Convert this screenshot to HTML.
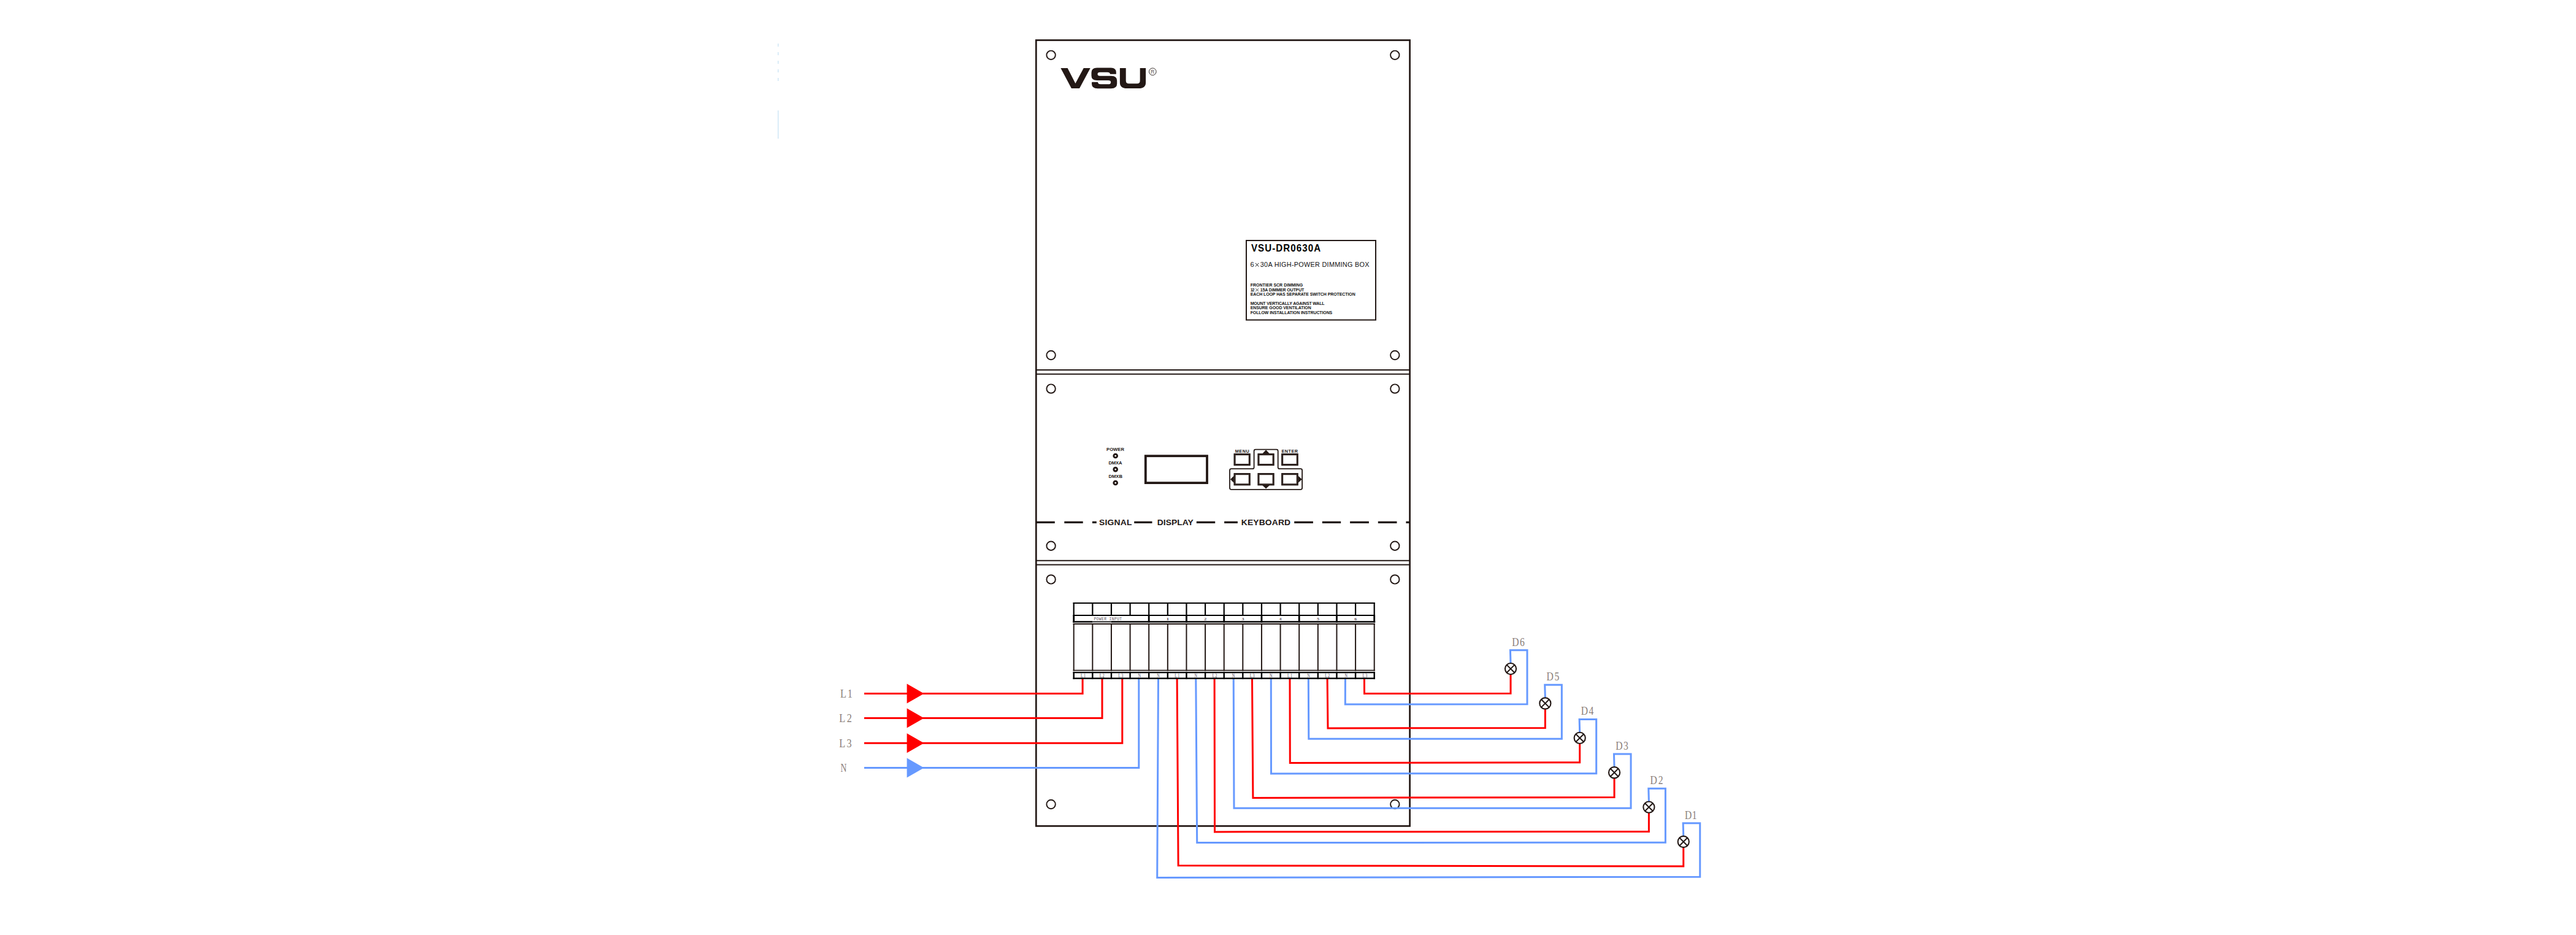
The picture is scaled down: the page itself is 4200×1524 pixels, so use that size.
<!DOCTYPE html>
<html><head><meta charset="utf-8"><title>VSU-DR0630A wiring</title>
<style>
html,body{margin:0;padding:0;background:#fff;}
body{width:4200px;height:1524px;overflow:hidden;position:relative;font-family:"Liberation Sans",sans-serif;}
svg{position:absolute;left:0;top:0;}
</style></head><body>
<svg width="4200" height="1524" viewBox="0 0 4200 1524">
<rect x="1689.3" y="65.5" width="609.3" height="1280.9" fill="none" stroke="#231815" stroke-width="2.7"/>
<line x1="1689.3" y1="603.1" x2="2298.6" y2="603.1" stroke="#231815" stroke-width="2"/>
<line x1="1689.3" y1="609.7" x2="2298.6" y2="609.7" stroke="#231815" stroke-width="2"/>
<line x1="1689.3" y1="913.8" x2="2298.6" y2="913.8" stroke="#231815" stroke-width="2"/>
<line x1="1689.3" y1="920.5" x2="2298.6" y2="920.5" stroke="#231815" stroke-width="2"/>
<circle cx="1713.6" cy="89.8" r="7.2" fill="none" stroke="#231815" stroke-width="1.95"/>
<circle cx="2274.3" cy="89.8" r="7.2" fill="none" stroke="#231815" stroke-width="1.95"/>
<circle cx="1713.6" cy="579" r="7.2" fill="none" stroke="#231815" stroke-width="1.95"/>
<circle cx="2274.3" cy="579" r="7.2" fill="none" stroke="#231815" stroke-width="1.95"/>
<circle cx="1713.6" cy="633.6" r="7.2" fill="none" stroke="#231815" stroke-width="1.95"/>
<circle cx="2274.3" cy="633.6" r="7.2" fill="none" stroke="#231815" stroke-width="1.95"/>
<circle cx="1713.6" cy="889.7" r="7.2" fill="none" stroke="#231815" stroke-width="1.95"/>
<circle cx="2274.3" cy="889.7" r="7.2" fill="none" stroke="#231815" stroke-width="1.95"/>
<circle cx="1713.6" cy="944.4" r="7.2" fill="none" stroke="#231815" stroke-width="1.95"/>
<circle cx="2274.3" cy="944.4" r="7.2" fill="none" stroke="#231815" stroke-width="1.95"/>
<circle cx="1713.6" cy="1311" r="7.2" fill="none" stroke="#231815" stroke-width="1.95"/>
<circle cx="2274.3" cy="1311" r="7.2" fill="none" stroke="#231815" stroke-width="1.95"/>
<line x1="1268.7" y1="71" x2="1268.7" y2="136" stroke="#cfe6f5" stroke-width="1.5" stroke-dasharray="5 9"/>
<line x1="1268.7" y1="180" x2="1268.7" y2="226" stroke="#cfe6f5" stroke-width="1.5"/>
<path fill="#231815" d="M1729.4,110.9 L1740.6,110.9 L1753.4,135.9 L1766.8,110.9 L1777.7,110.9 L1760,143.9 L1746.9,143.9 Z"/>
<path fill="#231815" d="M1819.8,120.7 L1810.1,120.7 Q1809.6,117.7 1805.5,117.7 L1793.5,117.7 Q1789.5,117.7 1789.5,120.7 Q1789.5,123.7 1793.5,123.7 L1812,123.7 Q1821.2,123.7 1821.2,131.5 L1821.2,136.5 Q1821.2,144.2 1811.5,144.2 L1789.5,144.2 Q1780,144.2 1780,136.5 L1780.2,133.8 L1789.9,133.8 Q1790.2,137.3 1794.5,137.3 L1807,137.3 Q1811.2,137.3 1811.2,134.2 Q1811.2,131 1807,131 L1788.5,131 Q1779.5,131 1779.5,123.5 L1779.5,118.5 Q1779.5,110.5 1788.5,110.5 L1811.5,110.5 Q1819.8,110.5 1819.8,118 Z"/>
<path fill="#231815" d="M1825.9,110.9 L1835.7,110.9 L1835.7,131.5 Q1835.7,136.2 1840.5,136.2 L1854,136.2 Q1858.7,136.2 1858.7,131.5 L1858.7,110.9 L1868.1,110.9 L1868.1,134.5 Q1868.1,144.1 1856.5,144.1 L1837.5,144.1 Q1825.9,144.1 1825.9,134.5 Z"/>
<circle cx="1879.3" cy="116.8" r="5.8" fill="none" stroke="#231815" stroke-width="0.9"/>
<text transform="translate(1876.309,119.9) scale(0.934,1)" font-family="Liberation Sans" font-size="9.012" fill="#5a504c">R</text>
<rect x="2032" y="392" width="211" height="129.5" fill="none" stroke="#231815" stroke-width="2"/>
<text transform="translate(2039.897,410.2) scale(0.92,1)" font-family="Liberation Sans" font-weight="bold" font-size="16.425" letter-spacing="1.179" fill="#000">VSU-DR0630A</text>
<text transform="translate(2038.439,435) scale(0.988,1)" font-family="Liberation Sans" font-size="11.192" fill="#111">6</text>
<path stroke="#111" stroke-width="1" d="M2046.8,428.9 L2052.4,434.5 M2052.4,428.9 L2046.8,434.5"/>
<text transform="translate(2054.787,435) scale(0.97,1)" font-family="Liberation Sans" font-size="11.192" letter-spacing="0.294" fill="#111">30A HIGH-POWER DIMMING BOX</text>
<text transform="translate(2038.633,466.8)" font-family="Liberation Sans" font-weight="bold" font-size="6.977" letter-spacing="0.023" fill="#111">FRONTIER SCR DIMMING</text>
<text transform="translate(2038.633,481.8)" font-family="Liberation Sans" font-weight="bold" font-size="6.977" letter-spacing="-0.071" fill="#111">EACH LOOP HAS SEPARATE SWITCH PROTECTION</text>
<text transform="translate(2038.633,496.8)" font-family="Liberation Sans" font-weight="bold" font-size="6.977" letter-spacing="-0.152" fill="#111">MOUNT VERTICALLY AGAINST WALL</text>
<text transform="translate(2038.633,503.9)" font-family="Liberation Sans" font-weight="bold" font-size="6.977" letter-spacing="-0.048" fill="#111">ENSURE GOOD VENTILATION</text>
<text transform="translate(2038.633,511.6)" font-family="Liberation Sans" font-weight="bold" font-size="6.977" letter-spacing="-0.089" fill="#111">FOLLOW INSTALLATION INSTRUCTIONS</text>
<text transform="translate(2038.661,474.8)" font-family="Liberation Sans" font-weight="bold" font-size="6.977" letter-spacing="-1.142" fill="#111">12</text>
<path stroke="#111" stroke-width="0.75" d="M2047.0,470.3 L2052.3,474.9 M2052.3,470.3 L2047.0,474.9"/>
<text transform="translate(2054.761,474.8)" font-family="Liberation Sans" font-weight="bold" font-size="6.977" letter-spacing="-0.108" fill="#111">15A DIMMER OUTPUT</text>
<text transform="translate(1804.09,734.9) scale(1.05,1)" font-family="Liberation Sans" font-weight="bold" font-size="7.268" letter-spacing="0.009" fill="#231815">POWER</text>
<text transform="translate(1807.39,756.8) scale(1.05,1)" font-family="Liberation Sans" font-weight="bold" font-size="7.268" letter-spacing="-0.081" fill="#231815">DMXA</text>
<text transform="translate(1807.39,778.8) scale(1.05,1)" font-family="Liberation Sans" font-weight="bold" font-size="7.268" letter-spacing="0.028" fill="#231815">DMXB</text>
<circle cx="1818.7" cy="743" r="2.85" fill="none" stroke="#231815" stroke-width="2.95"/>
<circle cx="1818.7" cy="765.1" r="2.85" fill="none" stroke="#231815" stroke-width="2.95"/>
<circle cx="1818.7" cy="787" r="2.85" fill="none" stroke="#231815" stroke-width="2.95"/>
<rect x="1867.8" y="743.2" width="100.2" height="43.9" fill="none" stroke="#231815" stroke-width="3.8"/>
<path fill="none" stroke="#231815" stroke-width="1.8" stroke-linejoin="round" d="M2007.5,764.2 L2042.1,764.2 Q2044.6,764.2 2044.6,761.7 L2044.6,735.2 Q2044.6,732.7 2047.1,732.7 L2081.2,732.7 Q2083.7,732.7 2083.7,735.2 L2083.7,761.7 Q2083.7,764.2 2086.2,764.2 L2120.6,764.2 Q2123.1,764.2 2123.1,766.7 L2123.1,795.3 Q2123.1,797.8 2120.6,797.8 L2007.5,797.8 Q2005,797.8 2005,795.3 L2005,766.7 Q2005,764.2 2007.5,764.2 Z"/>
<rect x="2013.05" y="740.6" width="24.2" height="16.9" fill="none" stroke="#231815" stroke-width="3.1"/>
<rect x="2013.5" y="741.05" width="23.3" height="16" fill="none" stroke="#5c4f4a" stroke-width="0.45"/>
<rect x="2013.05" y="772.6" width="24.2" height="17.2" fill="none" stroke="#231815" stroke-width="3.1"/>
<rect x="2013.5" y="773.05" width="23.3" height="16.3" fill="none" stroke="#5c4f4a" stroke-width="0.45"/>
<rect x="2051.95" y="740.6" width="24.2" height="16.9" fill="none" stroke="#231815" stroke-width="3.1"/>
<rect x="2052.4" y="741.05" width="23.3" height="16" fill="none" stroke="#5c4f4a" stroke-width="0.45"/>
<rect x="2051.95" y="772.6" width="24.2" height="17.2" fill="none" stroke="#231815" stroke-width="3.1"/>
<rect x="2052.4" y="773.05" width="23.3" height="16.3" fill="none" stroke="#5c4f4a" stroke-width="0.45"/>
<rect x="2090.65" y="740.6" width="24.6" height="16.9" fill="none" stroke="#231815" stroke-width="3.1"/>
<rect x="2091.1" y="741.05" width="23.7" height="16" fill="none" stroke="#5c4f4a" stroke-width="0.45"/>
<rect x="2090.65" y="772.6" width="24.6" height="17.2" fill="none" stroke="#231815" stroke-width="3.1"/>
<rect x="2091.1" y="773.05" width="23.7" height="16.3" fill="none" stroke="#5c4f4a" stroke-width="0.45"/>
<path fill="#231815" d="M2064.1,733.3 L2070,739.5 L2058.2,739.5 Z"/>
<path fill="#231815" d="M2064.1,796.6 L2070,790.9 L2058.2,790.9 Z"/>
<path fill="#231815" d="M2006,781.2 L2011.8,775.4 L2011.8,787 Z"/>
<path fill="#231815" d="M2122.8,781.2 L2116.5,775.4 L2116.5,787 Z"/>
<text transform="translate(2013.814,737.9)" font-family="Liberation Sans" font-weight="bold" font-size="7.268" letter-spacing="0.511" fill="#231815">MENU</text>
<text transform="translate(2089.514,737.9)" font-family="Liberation Sans" font-weight="bold" font-size="7.268" letter-spacing="0.476" fill="#231815">ENTER</text>
<rect x="1688" y="849.7" width="31.8" height="3.3" fill="#231815"/>
<rect x="1735.3" y="849.7" width="30.4" height="3.3" fill="#231815"/>
<rect x="1780.9" y="849.7" width="6.9" height="3.3" fill="#231815"/>
<rect x="1849.2" y="849.7" width="29.3" height="3.3" fill="#231815"/>
<rect x="1950.8" y="849.7" width="30.4" height="3.3" fill="#231815"/>
<rect x="1996.1" y="849.7" width="21.8" height="3.3" fill="#231815"/>
<rect x="2110.2" y="849.7" width="30.7" height="3.3" fill="#231815"/>
<rect x="2155.8" y="849.7" width="30.4" height="3.3" fill="#231815"/>
<rect x="2201.1" y="849.7" width="30.8" height="3.3" fill="#231815"/>
<rect x="2246.8" y="849.7" width="30.7" height="3.3" fill="#231815"/>
<rect x="2292.4" y="849.7" width="5.6" height="3.3" fill="#231815"/>
<text transform="translate(1792.001,855.8) scale(1.06,1)" font-family="Liberation Sans" font-weight="bold" font-size="13.082" letter-spacing="0.234" fill="#231815">SIGNAL</text>
<text transform="translate(1886.772,855.8) scale(1.06,1)" font-family="Liberation Sans" font-weight="bold" font-size="13.082" letter-spacing="0.024" fill="#231815">DISPLAY</text>
<text transform="translate(2023.772,855.8) scale(1.06,1)" font-family="Liberation Sans" font-weight="bold" font-size="13.082" letter-spacing="0.142" fill="#231815">KEYBOARD</text>
<line x1="1749.6" y1="982.9" x2="2241.8" y2="982.9" stroke="#000000" stroke-width="2.0"/>
<line x1="1749.6" y1="1003" x2="2241.8" y2="1003" stroke="#000000" stroke-width="2.0"/>
<line x1="1750.7" y1="982" x2="1750.7" y2="1004" stroke="#000000" stroke-width="2.2"/>
<line x1="1781.325" y1="982" x2="1781.325" y2="1004" stroke="#000000" stroke-width="2.2"/>
<line x1="1811.95" y1="982" x2="1811.95" y2="1004" stroke="#000000" stroke-width="2.2"/>
<line x1="1842.575" y1="982" x2="1842.575" y2="1004" stroke="#000000" stroke-width="2.2"/>
<line x1="1873.2" y1="982" x2="1873.2" y2="1004" stroke="#000000" stroke-width="2.2"/>
<line x1="1903.825" y1="982" x2="1903.825" y2="1004" stroke="#000000" stroke-width="2.2"/>
<line x1="1934.45" y1="982" x2="1934.45" y2="1004" stroke="#000000" stroke-width="2.2"/>
<line x1="1965.075" y1="982" x2="1965.075" y2="1004" stroke="#000000" stroke-width="2.2"/>
<line x1="1995.7" y1="982" x2="1995.7" y2="1004" stroke="#000000" stroke-width="2.2"/>
<line x1="2026.325" y1="982" x2="2026.325" y2="1004" stroke="#000000" stroke-width="2.2"/>
<line x1="2056.95" y1="982" x2="2056.95" y2="1004" stroke="#000000" stroke-width="2.2"/>
<line x1="2087.575" y1="982" x2="2087.575" y2="1004" stroke="#000000" stroke-width="2.2"/>
<line x1="2118.2" y1="982" x2="2118.2" y2="1004" stroke="#000000" stroke-width="2.2"/>
<line x1="2148.825" y1="982" x2="2148.825" y2="1004" stroke="#000000" stroke-width="2.2"/>
<line x1="2179.45" y1="982" x2="2179.45" y2="1004" stroke="#000000" stroke-width="2.2"/>
<line x1="2210.075" y1="982" x2="2210.075" y2="1004" stroke="#000000" stroke-width="2.2"/>
<line x1="2240.7" y1="982" x2="2240.7" y2="1004" stroke="#000000" stroke-width="2.2"/>
<line x1="1749.2" y1="1013.5" x2="1781.325" y2="1013.5" stroke="#000000" stroke-width="2.6"/>
<line x1="1811.95" y1="1013.5" x2="2242.2" y2="1013.5" stroke="#000000" stroke-width="2.6"/>
<line x1="1781.325" y1="1013.5" x2="1811.95" y2="1013.5" stroke="#000000" stroke-width="1.7"/>
<line x1="1750.7" y1="1003" x2="1750.7" y2="1014.8" stroke="#000000" stroke-width="2.8"/>
<line x1="1873.2" y1="1003" x2="1873.2" y2="1014.8" stroke="#000000" stroke-width="2.8"/>
<line x1="1934.45" y1="1003" x2="1934.45" y2="1014.8" stroke="#000000" stroke-width="2.8"/>
<line x1="1995.7" y1="1003" x2="1995.7" y2="1014.8" stroke="#000000" stroke-width="2.8"/>
<line x1="2056.95" y1="1003" x2="2056.95" y2="1014.8" stroke="#000000" stroke-width="2.8"/>
<line x1="2118.2" y1="1003" x2="2118.2" y2="1014.8" stroke="#000000" stroke-width="2.8"/>
<line x1="2179.45" y1="1003" x2="2179.45" y2="1014.8" stroke="#000000" stroke-width="2.8"/>
<line x1="2240.7" y1="1003" x2="2240.7" y2="1014.8" stroke="#000000" stroke-width="2.8"/>
<line x1="1749.6" y1="1017" x2="2241.8" y2="1017" stroke="#231815" stroke-width="1.8"/>
<line x1="1749.6" y1="1092.7" x2="2241.8" y2="1092.7" stroke="#231815" stroke-width="1.8"/>
<line x1="1750.7" y1="1016.1" x2="1750.7" y2="1093.6" stroke="#231815" stroke-width="2.0"/>
<line x1="1781.325" y1="1016.1" x2="1781.325" y2="1093.6" stroke="#231815" stroke-width="2.0"/>
<line x1="1811.95" y1="1016.1" x2="1811.95" y2="1093.6" stroke="#231815" stroke-width="2.0"/>
<line x1="1842.575" y1="1016.1" x2="1842.575" y2="1093.6" stroke="#231815" stroke-width="2.0"/>
<line x1="1873.2" y1="1016.1" x2="1873.2" y2="1093.6" stroke="#231815" stroke-width="2.0"/>
<line x1="1903.825" y1="1016.1" x2="1903.825" y2="1093.6" stroke="#231815" stroke-width="2.0"/>
<line x1="1934.45" y1="1016.1" x2="1934.45" y2="1093.6" stroke="#231815" stroke-width="2.0"/>
<line x1="1965.075" y1="1016.1" x2="1965.075" y2="1093.6" stroke="#231815" stroke-width="2.0"/>
<line x1="1995.7" y1="1016.1" x2="1995.7" y2="1093.6" stroke="#231815" stroke-width="2.0"/>
<line x1="2026.325" y1="1016.1" x2="2026.325" y2="1093.6" stroke="#231815" stroke-width="2.0"/>
<line x1="2056.95" y1="1016.1" x2="2056.95" y2="1093.6" stroke="#231815" stroke-width="2.0"/>
<line x1="2087.575" y1="1016.1" x2="2087.575" y2="1093.6" stroke="#231815" stroke-width="2.0"/>
<line x1="2118.2" y1="1016.1" x2="2118.2" y2="1093.6" stroke="#231815" stroke-width="2.0"/>
<line x1="2148.825" y1="1016.1" x2="2148.825" y2="1093.6" stroke="#231815" stroke-width="2.0"/>
<line x1="2179.45" y1="1016.1" x2="2179.45" y2="1093.6" stroke="#231815" stroke-width="2.0"/>
<line x1="2210.075" y1="1016.1" x2="2210.075" y2="1093.6" stroke="#231815" stroke-width="2.0"/>
<line x1="2240.7" y1="1016.1" x2="2240.7" y2="1093.6" stroke="#231815" stroke-width="2.0"/>
<line x1="1749.6" y1="1096.1" x2="2241.8" y2="1096.1" stroke="#000000" stroke-width="2.2"/>
<line x1="1749.6" y1="1105.8" x2="2241.8" y2="1105.8" stroke="#000000" stroke-width="2.6"/>
<line x1="1750.7" y1="1094.9" x2="1750.7" y2="1107.1" stroke="#000000" stroke-width="2.4"/>
<line x1="1781.325" y1="1094.9" x2="1781.325" y2="1107.1" stroke="#000000" stroke-width="2.4"/>
<line x1="1811.95" y1="1094.9" x2="1811.95" y2="1107.1" stroke="#000000" stroke-width="2.4"/>
<line x1="1842.575" y1="1094.9" x2="1842.575" y2="1107.1" stroke="#000000" stroke-width="2.4"/>
<line x1="1873.2" y1="1094.9" x2="1873.2" y2="1107.1" stroke="#000000" stroke-width="2.4"/>
<line x1="1903.825" y1="1094.9" x2="1903.825" y2="1107.1" stroke="#000000" stroke-width="2.4"/>
<line x1="1934.45" y1="1094.9" x2="1934.45" y2="1107.1" stroke="#000000" stroke-width="2.4"/>
<line x1="1965.075" y1="1094.9" x2="1965.075" y2="1107.1" stroke="#000000" stroke-width="2.4"/>
<line x1="1995.7" y1="1094.9" x2="1995.7" y2="1107.1" stroke="#000000" stroke-width="2.4"/>
<line x1="2026.325" y1="1094.9" x2="2026.325" y2="1107.1" stroke="#000000" stroke-width="2.4"/>
<line x1="2056.95" y1="1094.9" x2="2056.95" y2="1107.1" stroke="#000000" stroke-width="2.4"/>
<line x1="2087.575" y1="1094.9" x2="2087.575" y2="1107.1" stroke="#000000" stroke-width="2.4"/>
<line x1="2118.2" y1="1094.9" x2="2118.2" y2="1107.1" stroke="#000000" stroke-width="2.4"/>
<line x1="2148.825" y1="1094.9" x2="2148.825" y2="1107.1" stroke="#000000" stroke-width="2.4"/>
<line x1="2179.45" y1="1094.9" x2="2179.45" y2="1107.1" stroke="#000000" stroke-width="2.4"/>
<line x1="2210.075" y1="1094.9" x2="2210.075" y2="1107.1" stroke="#000000" stroke-width="2.4"/>
<line x1="2240.7" y1="1094.9" x2="2240.7" y2="1107.1" stroke="#000000" stroke-width="2.4"/>
<text transform="translate(1783.403,1010.7) scale(0.9,1)" font-family="Liberation Mono" font-size="6.984" letter-spacing="0.483" fill="#5a5058">POWER INPUT</text>
<text transform="translate(1901.464,1010.7) scale(1.353,1)" font-family="Liberation Serif" font-weight="bold" font-size="7.025" fill="#5a5058">1</text>
<text transform="translate(1963.121,1010.7) scale(1.2,1)" font-family="Liberation Serif" font-weight="bold" font-size="7.025" fill="#5a5058">2</text>
<text transform="translate(2024.418,1010.7) scale(1.163,1)" font-family="Liberation Serif" font-weight="bold" font-size="7.025" fill="#5a5058">3</text>
<text transform="translate(2085.873,1010.7) scale(1.065,1)" font-family="Liberation Serif" font-weight="bold" font-size="7.025" fill="#5a5058">4</text>
<text transform="translate(2146.894,1010.7) scale(1.177,1)" font-family="Liberation Serif" font-weight="bold" font-size="7.025" fill="#5a5058">5</text>
<text transform="translate(2208.201,1010.7) scale(1.141,1)" font-family="Liberation Serif" font-weight="bold" font-size="7.025" fill="#5a5058">6</text>
<text transform="translate(1762.083,1103.9) scale(0.85,1)" font-family="Liberation Serif" font-size="7.331" letter-spacing="1.332" fill="#4a4050">L1</text>
<text transform="translate(1792.708,1103.9) scale(0.85,1)" font-family="Liberation Serif" font-size="7.331" letter-spacing="1.296" fill="#4a4050">L2</text>
<text transform="translate(1823.333,1103.9) scale(0.85,1)" font-family="Liberation Serif" font-size="7.331" letter-spacing="1.178" fill="#4a4050">L3</text>
<text transform="translate(1855.608,1103.9) scale(0.85,1)" font-family="Liberation Serif" font-size="7.331" fill="#4a4050">N</text>
<text transform="translate(1886.233,1103.9) scale(0.85,1)" font-family="Liberation Serif" font-size="7.331" fill="#4a4050">N</text>
<text transform="translate(1915.208,1103.9) scale(0.85,1)" font-family="Liberation Serif" font-size="7.331" letter-spacing="1.332" fill="#4a4050">L1</text>
<text transform="translate(1947.483,1103.9) scale(0.85,1)" font-family="Liberation Serif" font-size="7.331" fill="#4a4050">N</text>
<text transform="translate(1976.458,1103.9) scale(0.85,1)" font-family="Liberation Serif" font-size="7.331" letter-spacing="1.296" fill="#4a4050">L2</text>
<text transform="translate(2008.733,1103.9) scale(0.85,1)" font-family="Liberation Serif" font-size="7.331" fill="#4a4050">N</text>
<text transform="translate(2037.708,1103.9) scale(0.85,1)" font-family="Liberation Serif" font-size="7.331" letter-spacing="1.178" fill="#4a4050">L3</text>
<text transform="translate(2069.983,1103.9) scale(0.85,1)" font-family="Liberation Serif" font-size="7.331" fill="#4a4050">N</text>
<text transform="translate(2098.958,1103.9) scale(0.85,1)" font-family="Liberation Serif" font-size="7.331" letter-spacing="1.332" fill="#4a4050">L1</text>
<text transform="translate(2131.233,1103.9) scale(0.85,1)" font-family="Liberation Serif" font-size="7.331" fill="#4a4050">N</text>
<text transform="translate(2160.208,1103.9) scale(0.85,1)" font-family="Liberation Serif" font-size="7.331" letter-spacing="1.296" fill="#4a4050">L2</text>
<text transform="translate(2192.483,1103.9) scale(0.85,1)" font-family="Liberation Serif" font-size="7.331" fill="#4a4050">N</text>
<text transform="translate(2221.458,1103.9) scale(0.85,1)" font-family="Liberation Serif" font-size="7.331" letter-spacing="1.178" fill="#4a4050">L3</text>
<polyline fill="none" stroke="#ff0000" stroke-width="3" points="1409,1130.5 1765.1,1130.5 1765.1,1107"/>
<path fill="#ff0000" d="M1478.6,1114.5 L1506.5,1130.5 L1478.6,1146.5 Z"/>
<text transform="translate(1370.031,1136.8) scale(0.84,1)" font-family="Liberation Serif" font-size="19.396" letter-spacing="2.083" fill="#8a7e78">L1</text>
<polyline fill="none" stroke="#ff0000" stroke-width="3" points="1409,1170.6 1797,1170.6 1797,1107"/>
<path fill="#ff0000" d="M1478.6,1154.6 L1506.5,1170.6 L1478.6,1186.6 Z"/>
<text transform="translate(1368.331,1177.1) scale(0.84,1)" font-family="Liberation Serif" font-size="19.396" letter-spacing="2.941" fill="#8a7e78">L2</text>
<polyline fill="none" stroke="#ff0000" stroke-width="3" points="1409,1211.2 1829.8,1211.2 1829.8,1107"/>
<path fill="#ff0000" d="M1478.6,1195.2 L1506.5,1211.2 L1478.6,1227.2 Z"/>
<text transform="translate(1368.331,1217.9) scale(0.84,1)" font-family="Liberation Serif" font-size="19.396" letter-spacing="2.628" fill="#8a7e78">L3</text>
<polyline fill="none" stroke="#6699ff" stroke-width="3" points="1409,1251.5 1856.8,1251.5 1856.8,1107"/>
<path fill="#6699ff" d="M1478.6,1235.5 L1506.5,1251.5 L1478.6,1267.5 Z"/>
<text transform="translate(1370.405,1257.6) scale(0.713,1)" font-family="Liberation Serif" font-size="19.243" fill="#8a7e78">N</text>
<polyline fill="none" stroke="#ff0000" stroke-width="3" stroke-linejoin="miter" points="1919.1,1107 1921.1,1410.8 2744.75,1412 2744.75,1381"/>
<polyline fill="none" stroke="#6699ff" stroke-width="3" stroke-linejoin="miter" points="1888.5,1107 1886.7,1430.4 2771.75,1429.3 2771.75,1341.7 2744.15,1341.7 2744.75,1363"/>
<circle cx="2744.75" cy="1372" r="9.1" fill="#fff" stroke="#231815" stroke-width="2.1"/>
<path stroke="#231815" stroke-width="2" d="M2738.315,1365.565 L2751.185,1378.435 M2751.185,1365.565 L2738.315,1378.435"/>
<text transform="translate(2746.899,1334.6) scale(0.84,1)" font-family="Liberation Serif" font-size="18.632" letter-spacing="0.67" fill="#8a7e78">D1</text>
<polyline fill="none" stroke="#ff0000" stroke-width="3" stroke-linejoin="miter" points="1980.1,1107 1980.5,1355.9 2688.4,1355.4 2688.4,1324.62"/>
<polyline fill="none" stroke="#6699ff" stroke-width="3" stroke-linejoin="miter" points="1949.8,1107 1951.7,1373.5 2715.4,1373.3 2715.4,1285.32 2687.8,1285.32 2688.4,1306.62"/>
<circle cx="2688.4" cy="1315.62" r="9.1" fill="#fff" stroke="#231815" stroke-width="2.1"/>
<path stroke="#231815" stroke-width="2" d="M2681.965,1309.185 L2694.835,1322.055 M2694.835,1309.185 L2681.965,1322.055"/>
<text transform="translate(2690.549,1278.22) scale(0.84,1)" font-family="Liberation Serif" font-size="18.632" letter-spacing="2.246" fill="#8a7e78">D2</text>
<polyline fill="none" stroke="#ff0000" stroke-width="3" stroke-linejoin="miter" points="2041.5,1107 2042.9,1300.4 2632.05,1299.6 2632.05,1268.24"/>
<polyline fill="none" stroke="#6699ff" stroke-width="3" stroke-linejoin="miter" points="2011.2,1107 2012,1317.2 2659.05,1317.3 2659.05,1228.94 2631.45,1228.94 2632.05,1250.24"/>
<circle cx="2632.05" cy="1259.24" r="9.1" fill="#fff" stroke="#231815" stroke-width="2.1"/>
<path stroke="#231815" stroke-width="2" d="M2625.615,1252.805 L2638.485,1265.675 M2638.485,1252.805 L2625.615,1265.675"/>
<text transform="translate(2634.199,1221.84) scale(0.84,1)" font-family="Liberation Serif" font-size="18.632" letter-spacing="1.945" fill="#8a7e78">D3</text>
<polyline fill="none" stroke="#ff0000" stroke-width="3" stroke-linejoin="miter" points="2103,1107 2103.3,1243.6 2575.7,1242.8 2575.7,1211.86"/>
<polyline fill="none" stroke="#6699ff" stroke-width="3" stroke-linejoin="miter" points="2072.3,1107 2072.5,1260.9 2602.7,1260.8 2602.7,1172.56 2575.1,1172.56 2575.7,1193.86"/>
<circle cx="2575.7" cy="1202.86" r="9.1" fill="#fff" stroke="#231815" stroke-width="2.1"/>
<path stroke="#231815" stroke-width="2" d="M2569.265,1196.425 L2582.135,1209.295 M2582.135,1196.425 L2569.265,1209.295"/>
<text transform="translate(2577.849,1165.46) scale(0.84,1)" font-family="Liberation Serif" font-size="18.632" letter-spacing="1.509" fill="#8a7e78">D4</text>
<polyline fill="none" stroke="#ff0000" stroke-width="3" stroke-linejoin="miter" points="2164.1,1107 2165,1187 2519.35,1186.5 2519.35,1155.48"/>
<polyline fill="none" stroke="#6699ff" stroke-width="3" stroke-linejoin="miter" points="2133.3,1107 2133.8,1204.3 2546.35,1204.3 2546.35,1116.18 2518.75,1116.18 2519.35,1137.48"/>
<circle cx="2519.35" cy="1146.48" r="9.1" fill="#fff" stroke="#231815" stroke-width="2.1"/>
<path stroke="#231815" stroke-width="2" d="M2512.915,1140.045 L2525.785,1152.915 M2525.785,1140.045 L2512.915,1152.915"/>
<text transform="translate(2521.499,1109.08) scale(0.84,1)" font-family="Liberation Serif" font-size="18.632" letter-spacing="1.945" fill="#8a7e78">D5</text>
<polyline fill="none" stroke="#ff0000" stroke-width="3" stroke-linejoin="miter" points="2224.4,1107 2224.5,1130.5 2463,1130.2 2463,1099.1"/>
<polyline fill="none" stroke="#6699ff" stroke-width="3" stroke-linejoin="miter" points="2193.4,1107 2193.3,1148 2490,1147.7 2490,1059.8 2462.4,1059.8 2463,1081.1"/>
<circle cx="2463" cy="1090.1" r="9.1" fill="#fff" stroke="#231815" stroke-width="2.1"/>
<path stroke="#231815" stroke-width="2" d="M2456.565,1083.665 L2469.435,1096.535 M2469.435,1083.665 L2456.565,1096.535"/>
<text transform="translate(2465.149,1052.7) scale(0.84,1)" font-family="Liberation Serif" font-size="18.632" letter-spacing="1.773" fill="#8a7e78">D6</text>
</svg>
</body></html>
